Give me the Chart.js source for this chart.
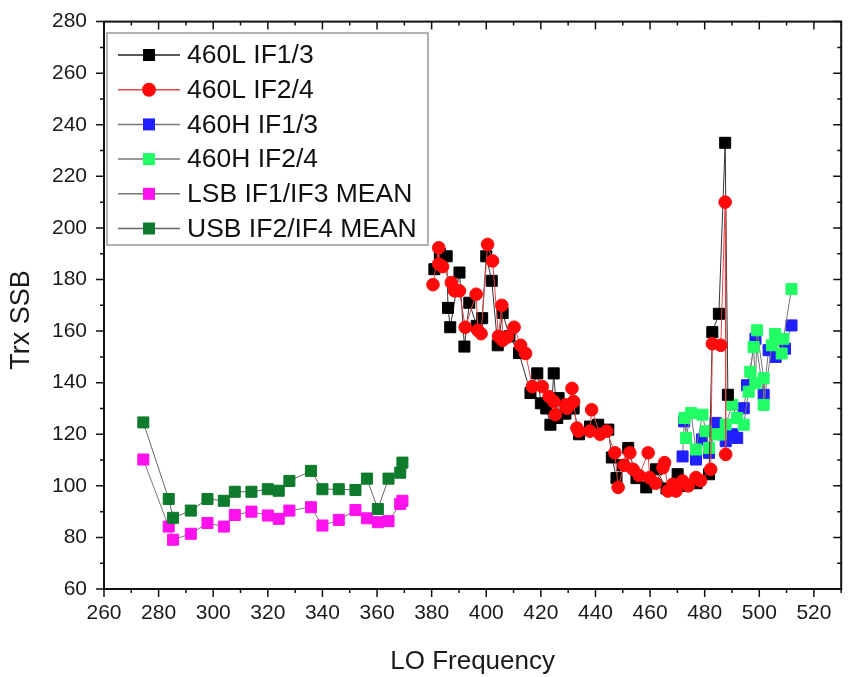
<!DOCTYPE html>
<html><head><meta charset="utf-8">
<script src="https://cdn.jsdelivr.net/npm/chart.js@4.4.0/dist/chart.umd.min.js"></script>
<style>html,body{margin:0;padding:0;background:#fff;}canvas{display:block;}</style>
</head><body>
<canvas id="c" width="850" height="677"></canvas>
<script>
const xTicks = [260,280,300,320,340,360,380,400,420,440,460,480,500,520];
const yTicks = [60,80,100,120,140,160,180,200,220,240,260,280];
const seriesLabels = ["460L IF1/3","460L IF2/4","460H IF1/3","460H IF2/4","LSB IF1/IF3 MEAN","USB IF2/IF4 MEAN"];
const xTitle = "LO Frequency";
const yTitle = "Trx SSB";

const x460L13 = [381.0,383.0,385.5,386.0,386.8,390.2,392.0,393.8,396.5,398.5,400.0,402.0,404.2,406.0,408.5,412.0,416.2,418.7,420.0,422.0,423.5,424.7,426.0,426.5,429.0,432.0,434.0,438.0,441.0,444.7,446.0,447.7,450.0,452.0,455.0,458.6,462.2,466.0,470.1,473.0,477.0,481.6,482.8,485.2,487.5,488.5];
const y460L13 = [184,190,189,169,161.5,182.7,154,171,162,165,189,179.5,154.5,167,158,151.5,136,143.6,132,130,123.7,143.6,126.3,134,128,130,120,123,123.7,121.8,111,103,108,114.7,103,99.4,106.4,99,104.5,100,101,104.5,159.6,166.7,233,135.3];

const x460L24 = [380.5,382.6,382.6,384.0,387.2,388.4,390.2,392.3,396.3,396.9,398.1,400.5,402.3,404.5,405.7,406.0,407.8,410.2,412.6,414.4,416.9,420.5,423.0,424.7,425.3,429.0,429.6,431.4,432.0,433.2,433.8,438.0,438.6,441.7,444.1,447.1,448.3,450.5,452.6,453.8,456.0,459.3,459.8,462.0,464.7,465.3,466.5,468.3,469.5,471.9,474.0,476.8,478.5,482.2,482.8,485.9,487.5,487.7];
const y460L24 = [178,192.3,186,185,178.8,175.6,175.6,161.5,174.3,160.3,159,193.6,187.2,158,170,156.4,157.7,161.5,154.5,151.3,138.5,138.5,134.6,132.7,127.6,131.4,130.1,137.8,132.7,122.4,121.2,121.2,129.5,120,121.2,112.8,99.4,108,112.8,106.4,104,112.8,103.2,101,107,109,98,100.6,98,101.9,100,103.2,102,106.4,155.1,154.5,210,112.2];

const x460H13 = [471.9,472.5,476.8,479.0,481.6,484.0,487.7,490.0,491.9,494.3,495.5,498.6,501.6,503.4,506.0,509.4,511.8];
const y460H13 = [111.4,125,110.2,118,112.8,124.4,117.3,120,118.6,130.1,139,157,135.3,152.6,150,153.2,162.2];

const x460H24 = [472.6,473.2,475.0,476.8,479.2,480.4,481.6,484.0,485.9,487.7,490.1,491.9,494.3,496.1,496.7,497.9,498.6,499.2,501.6,501.6,504.6,505.8,508.2,508.8,511.8];
const y460H24 = [126.3,118.6,128.2,114.1,127.6,121.2,114.7,120,119.9,123.8,131.4,126.3,123.7,136.5,144.2,153.8,139.8,160.3,141.7,131.4,154.5,158.9,151.3,157,176.3];

const xMean = [274.4,283.7,285.3,291.8,297.9,303.9,307.9,314.0,320.0,324.0,327.9,335.8,340.0,346.0,352.1,356.3,360.3,364.2,368.5,369.3];
const yLSB = [110.2,84.2,79.1,81.4,85.6,84.2,88.7,90,88.5,87.2,90.4,91.7,84.6,86.8,90.6,87.4,85.9,86.3,93,94.2];
const yUSB = [124.6,94.9,87.6,90.4,94.9,94.2,97.7,97.7,98.7,98.1,101.9,105.8,98.7,98.7,98.4,102.8,91,102.8,105.1,109];

function pts(xs, ys){ return xs.map((x,i)=>({x:x, y:ys[i]})); }

const FONT = "'Liberation Sans', Arial, Helvetica, sans-serif";

function ds(label, data, color, lineColor, style, radius, order){
  return {label, data, showLine:true, borderColor:lineColor, borderWidth:1,
    backgroundColor:color, pointBackgroundColor:color, pointBorderColor:color,
    pointBorderWidth:1, pointStyle:style, pointRadius:radius, pointHoverRadius:radius,
    tension:0, order, fill:false, _markColor: color};
}

const datasets = [
  ds(seriesLabels[0], pts(x460L13,y460L13), '#000000', '#333333', 'rect', 7.8, 2),
  ds(seriesLabels[1], pts(x460L24,y460L24), '#ff0a0a', '#e04848', 'circle', 6.3, 1),
  ds(seriesLabels[2], pts(x460H13,y460H13), '#1f1fff', '#777777', 'rect', 7.8, 4),
  ds(seriesLabels[3], pts(x460H24,y460H24), '#22ff66', '#777777', 'rect', 7.8, 3),
  ds(seriesLabels[4], pts(xMean,yLSB), '#ff11ee', '#777777', 'rect', 7.8, 6),
  ds(seriesLabels[5], pts(xMean,yUSB), '#0e7a2c', '#666666', 'rect', 7.8, 5)
];

const frameTicks = {
  id:'frameTicks',
  afterDatasetsDraw(chart){
    const {ctx, chartArea:a, scales:{x, y}} = chart;
    ctx.save();
    ctx.strokeStyle = '#111'; ctx.lineWidth = 1.5;
    ctx.beginPath();
    for (let v = 260; v <= 530; v += 10){
      const px = x.getPixelForValue(v);
      const L = (v % 20 === 0) ? 8 : 4;
      ctx.moveTo(px, a.bottom); ctx.lineTo(px, a.bottom + L);
      ctx.moveTo(px, a.top); ctx.lineTo(px, a.top + L);
    }
    for (let v = 60; v <= 280; v += 10){
      const py = y.getPixelForValue(v);
      const L = (v % 20 === 0) ? 8 : 4;
      ctx.moveTo(a.left, py); ctx.lineTo(a.left - L, py);
      ctx.moveTo(a.right, py); ctx.lineTo(a.right - L, py);
    }
    ctx.stroke();
    ctx.lineWidth = 2;
    ctx.strokeRect(a.left, a.top, a.right - a.left, a.bottom - a.top);
    ctx.restore();
  }
};

const yTitlePlugin = {
  id:'yTitlePlugin',
  afterDraw(chart){
    const ctx = chart.ctx;
    ctx.save();
    ctx.translate(22, 320);
    ctx.rotate(-Math.PI/2);
    ctx.fillStyle = '#1a1a1a';
    ctx.font = '27px ' + FONT;
    ctx.textAlign = 'center';
    ctx.textBaseline = 'middle';
    ctx.fillText(yTitle, 0, 0);
    ctx.restore();
  }
};

const legendBox = {
  id:'legendBox',
  afterDraw(chart){
    const ctx = chart.ctx;
    const bx = 107, by = 33, bw = 321, bh = 212;
    ctx.save();
    ctx.fillStyle = '#fff';
    ctx.fillRect(bx, by, bw, bh);
    ctx.strokeStyle = '#999'; ctx.lineWidth = 1.5;
    ctx.strokeRect(bx, by, bw, bh);
    chart.data.datasets.forEach((d, i) => {
      const cy = 55 + i * 34.7;
      ctx.strokeStyle = d.borderColor === '#333333' ? '#222' : d.borderColor;
      ctx.lineWidth = 1.5;
      ctx.beginPath(); ctx.moveTo(118, cy); ctx.lineTo(180, cy); ctx.stroke();
      ctx.fillStyle = d._markColor;
      if (d.pointStyle === 'circle'){
        ctx.beginPath(); ctx.arc(149, cy, 7, 0, Math.PI*2); ctx.fill();
      } else {
        ctx.fillRect(149 - 6, cy - 6, 12, 12);
      }
      ctx.fillStyle = '#111';
      ctx.font = '26.5px ' + FONT;
      ctx.textBaseline = 'middle';
      ctx.textAlign = 'left';
      ctx.fillText(d.label, 187, cy + 1);
    });
    ctx.restore();
  }
};

new Chart(document.getElementById('c'), {
  type:'scatter',
  data:{datasets},
  options:{
    responsive:false, animation:false, devicePixelRatio:1,
    layout:{padding:{left:0, right:4, top:17, bottom:0}},
    plugins:{legend:{display:false}, tooltip:{enabled:false}},
    scales:{
      x:{type:'linear', min:260, max:530,
        afterBuildTicks(s){ s.ticks = xTicks.map(v=>({value:v})); },
        afterFit(s){ s.height = 88; },
        grid:{display:false}, border:{display:false},
        ticks:{padding:4, color:'#1a1a1a', font:{family:FONT, size:21}, maxRotation:0, autoSkip:false},
        title:{display:true, text:xTitle, color:'#1a1a1a', font:{family:FONT, size:26}, padding:{top:0,bottom:0}}
      },
      y:{type:'linear', min:60, max:280,
        afterBuildTicks(s){ s.ticks = yTicks.map(v=>({value:v})); },
        afterFit(s){ s.width = 104; },
        grid:{display:false}, border:{display:false},
        ticks:{padding:9, color:'#1a1a1a', font:{family:FONT, size:21}, autoSkip:false},
        title:{display:false, text:yTitle}
      }
    }
  },
  plugins:[frameTicks, yTitlePlugin, legendBox]
});
</script>
</body></html>
